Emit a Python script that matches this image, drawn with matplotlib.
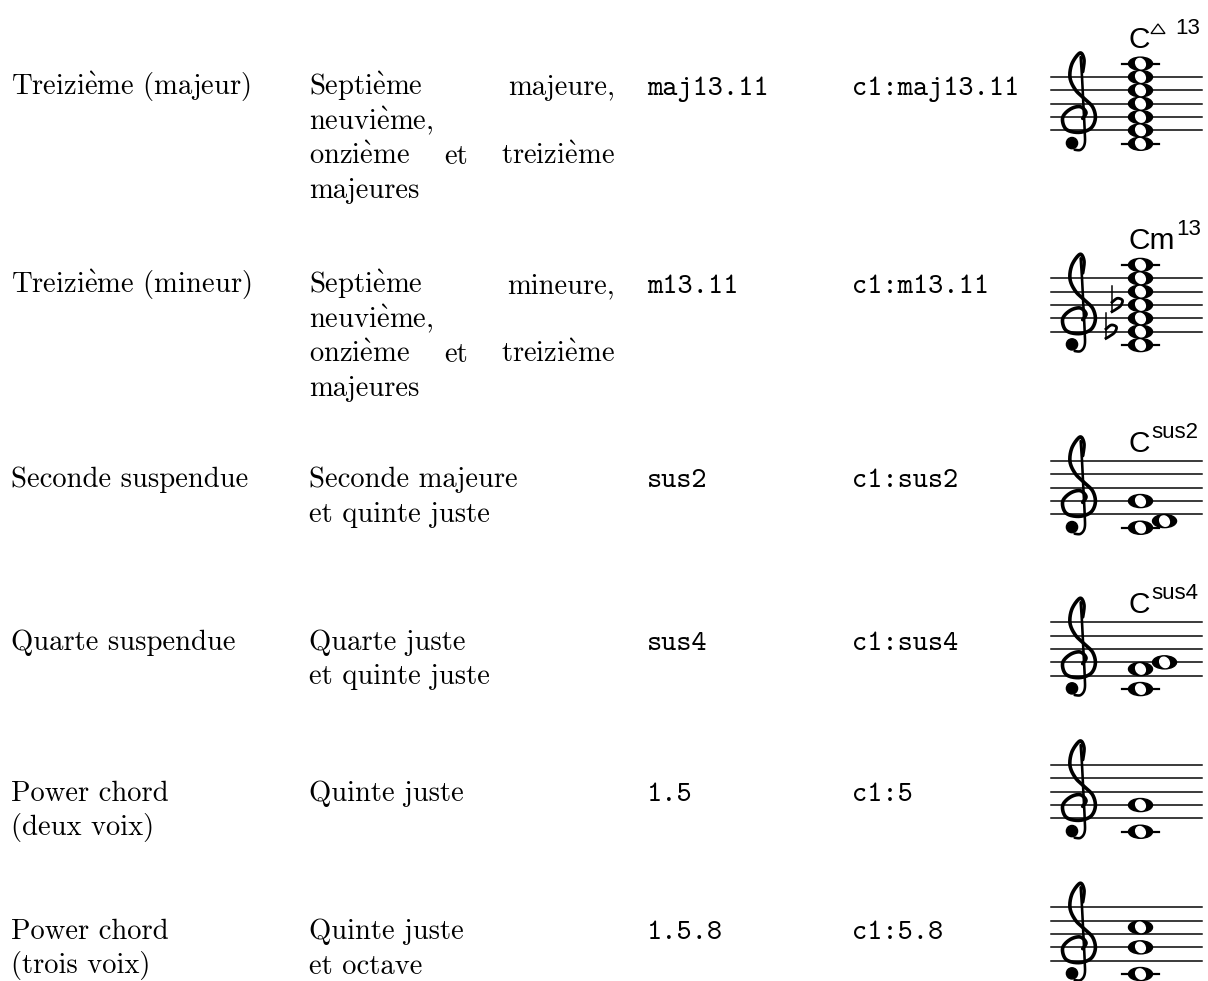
import os
import numpy as np
import matplotlib
matplotlib.use("Agg")
import matplotlib.pyplot as plt
from matplotlib.patches import Ellipse, Circle, Polygon
from matplotlib.font_manager import FontProperties

plt.rcParams["mathtext.fontset"] = "cm"
plt.rcParams["mathtext.default"] = "rm"

# table content
names = [["Treizième (majeur)"], ["Treizième (mineur)"], ["Seconde suspendue"],
         ["Quarte suspendue"], ["Power chord", "(deux voix)"], ["Power chord", "(trois voix)"]]
descriptions = [["Septième majeure,", "neuvième,", "onzième et treizième", "majeures"],
                ["Septième mineure,", "neuvième,", "onzième et treizième", "majeures"],
                ["Seconde majeure", "et quinte juste"],
                ["Quarte juste", "et quinte juste"],
                ["Quinte juste"],
                ["Quinte juste", "et octave"]]
wrapped = [True, True, False, False, False, False]
modifiers = ["maj13.11", "m13.11", "sus2", "sus4", "1.5", "1.5.8"]
examples = ["c1:maj13.11", "c1:m13.11", "c1:sus2", "c1:sus4", "c1:5", "c1:5.8"]

# chords: staff steps from the bottom line (E4 = 0, C4 = -2)
chord_roots = ["C", "Cm", "C", "C", "", ""]
chord_sups = ["13", "13", "sus2", "sus4", "", ""]
chord_triangle = [True, False, False, False, False, False]
chord_steps = [[-2, 0, 2, 4, 6, 8, 10], [-2, 0, 2, 4, 6, 8, 10], [-2, -1, 2],
               [-2, 1, 2], [-2, 2], [-2, 2, 5]]
chord_flats = [[], [4, 0], [], [], [], []]

# layout (pixels)
row_base = [95, 293, 487, 650, 801, 939]
staff_top = [77, 278.3, 461, 622.3, 765, 907.3]
line_gap = 34.5
SP = 13.35
col_x = [11, 309, 647, 852]
desc_right = 615
staff_x0, staff_x1 = 1051, 1202
note_x = 1140.5
clef_x = 1078

fig = plt.figure(figsize=(12.08, 9.81), dpi=100)
ax = fig.add_axes([0, 0, 1, 1])
ax.set_xlim(0, 1208)
ax.set_ylim(981, 0)
ax.axis("off")
rend = fig.canvas.get_renderer()

tt_font = FontProperties(fname=os.path.join(matplotlib.get_data_path(), "fonts", "ttf", "cmtt10.ttf"),
                         size=20.8)
RM = dict(family="cmr10", size=20.6, va="baseline", color="black")
SANS = dict(family=["Liberation Sans", "DejaVu Sans"], va="baseline", color="black")


def tex(s):
    return s.replace("è", r"$\grave{e}$")


def px(v):
    return v * 72 / 100.0


def smooth(pts, n=16):
    # catmull-rom through glyph outline points
    p = np.array(pts, float)
    p = np.vstack([p[0], p, p[-1]])
    out = []
    for i in range(1, len(p) - 2):
        p0, p1, p2, p3 = p[i - 1], p[i], p[i + 1], p[i + 2]
        for t in np.linspace(0, 1, n, endpoint=False):
            out.append(0.5 * ((2 * p1) + (-p0 + p2) * t + (2 * p0 - 5 * p1 + 4 * p2 - p3) * t ** 2
                              + (-p0 + 3 * p1 - 3 * p2 + p3) * t ** 3))
    out.append(p[-2])
    return np.array(out)


def width_of(t):
    return t.get_window_extent(rend).width


def justify(words, x0, x1, y):
    ts = [ax.text(x0, y, tex(w), **RM) for w in words]
    ws = [width_of(t) for t in ts]
    gap = (x1 - x0 - sum(ws)) / (len(words) - 1)
    x = x0
    for t, w in zip(ts, ws):
        t.set_x(x)
        x += w + gap


clef_stroke = [(0.35, -0.1), (0.6, 0.35), (0.15, 0.78), (-0.6, 0.58), (-1.15, -0.05),
               (-0.9, -0.9), (0.05, -1.15), (0.95, -0.85), (1.3, -0.1), (1.1, 0.75),
               (0.45, 1.4), (-0.2, 2.05), (-0.6, 2.95), (-0.45, 4.0), (0.15, 4.8),
               (0.45, 4.3), (0.35, 3.4)]
clef_stem = [(0.2, 4.5), (0.3, 3.0), (0.4, 1.0), (0.5, -1.0), (0.5, -2.0), (0.2, -2.45),
             (-0.25, -2.45)]


def draw_clef(gy):
    for pts, lw in [(clef_stroke, 3.6), (clef_stem, 2.6)]:
        c = smooth(pts)
        ax.plot(clef_x + c[:, 0] * SP, gy - c[:, 1] * SP, color="black",
                lw=px(lw), solid_capstyle="round")
    ax.add_patch(Circle((clef_x - 0.45 * SP, gy + 1.95 * SP), 0.42 * SP, color="black"))


flat_bowl = [(0, 0.2), (0.4, 0.5), (0.78, 0.35), (0.65, -0.05), (0.3, -0.32), (0, -0.5)]


def draw_flat(x, y):
    ax.plot([x, x], [y + 0.5 * SP, y - 1.4 * SP], color="black", lw=px(1.5))
    c = smooth(flat_bowl)
    ax.plot(x + c[:, 0] * SP, y - c[:, 1] * SP, color="black", lw=px(2.8))


def draw_note(x, y):
    ax.add_patch(Ellipse((x, y), 1.8 * SP, 0.98 * SP, color="black", zorder=3))
    ax.add_patch(Ellipse((x, y), 0.68 * SP, 0.82 * SP, angle=-35, color="white", zorder=4))


for i in range(len(names)):
    base = row_base[i]
    for k, line in enumerate(names[i]):
        ax.text(col_x[0], base + k * line_gap, tex(line), **RM)
    lines = descriptions[i]
    for k, line in enumerate(lines):
        y = base + k * line_gap
        words = line.split()
        if wrapped[i] and k < len(lines) - 1 and len(words) > 1:
            justify(words, col_x[1], desc_right, y)
        else:
            ax.text(col_x[1], y, tex(line), **RM)
    ax.text(col_x[2], base, modifiers[i], fontproperties=tt_font, va="baseline")
    ax.text(col_x[3], base, examples[i], fontproperties=tt_font, va="baseline")

    # staff
    top = staff_top[i]
    bottom = top + 4 * SP
    for j in range(5):
        ax.plot([staff_x0, staff_x1], [top + j * SP] * 2, color="black", lw=px(1.5))
    draw_clef(bottom - SP)

    steps = chord_steps[i]
    shift = []
    prev, prev_shift = None, False
    for s in steps:
        sh = prev is not None and s - prev == 1 and not prev_shift
        shift.append(sh)
        prev, prev_shift = s, sh
    for s, sh in zip(steps, shift):
        y = bottom - s * SP / 2
        x = note_x + (1.8 * SP if sh else 0)
        draw_note(x, y)
    for s in range(-2, min(steps) - 1, -2):
        y = bottom - s * SP / 2
        ax.plot([note_x - 1.38 * SP, note_x + 1.38 * SP], [y, y], color="black", lw=px(2.2))
    for s in range(10, max(steps) + 1, 2):
        y = bottom - s * SP / 2
        ax.plot([note_x - 1.38 * SP, note_x + 1.38 * SP], [y, y], color="black", lw=px(2.2))
    for j, s in enumerate(chord_flats[i]):
        draw_flat(note_x - 28.5 - 6 * j, bottom - s * SP / 2)

    # chord name
    if chord_roots[i]:
        high = min(top, bottom - max(steps) * SP / 2 - SP / 2)
        ny = high - 9
        t = ax.text(1128.5, ny, chord_roots[i], size=21.5, **SANS)
        xr = 1128.5 + width_of(t)
        sy = ny - 14
        if chord_triangle[i]:
            ax.add_patch(Polygon([(xr + 1, sy - 0.5), (xr + 15, sy - 0.5), (xr + 8, sy - 10)],
                                 closed=True, fill=False, lw=px(1.3), edgecolor="black"))
            xr += 24
        ax.text(xr + 1, sy, chord_sups[i], size=16, **SANS)

fig.savefig("out.png", dpi=100, facecolor="white")
